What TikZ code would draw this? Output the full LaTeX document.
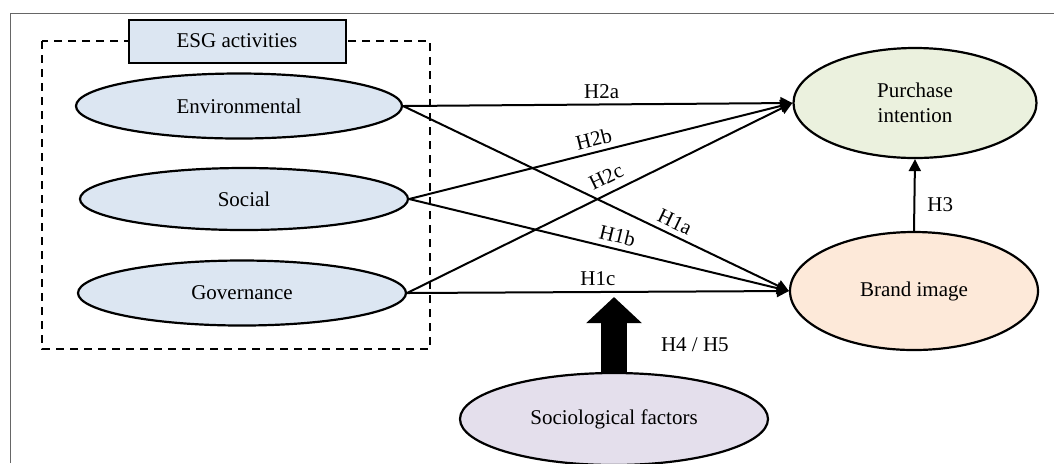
\documentclass[tikz,border=0pt]{standalone}
\usepackage{fontspec}
\setmainfont{Liberation Serif}
\usetikzlibrary{shapes.geometric,arrows.meta}
\definecolor{esgblue}{HTML}{DCE6F2}
\definecolor{pigreen}{HTML}{EBF1DE}
\definecolor{bipeach}{HTML}{FDE9D9}
\definecolor{sflilac}{HTML}{E4DFEC}
\begin{document}
\begin{tikzpicture}[x=0.5pt, y=-0.5pt,
	every node/.style={font=\fontsize{10.5}{12.6}\selectfont},
	factor/.style={ellipse, draw=black, line width=1.1pt, inner sep=0pt, align=center},
	link/.style={draw=black, line width=1pt, -{Triangle[length=6pt,width=6pt]}},
	hyp/.style={above, sloped, inner sep=2.5pt}]
			\useasboundingbox (0,0) rectangle (1054,463);
			\draw[black!60, line width=0.5pt] (10,463) -- (10,13) -- (1054,13);
			\draw[dash pattern=on 4pt off 3pt, line width=1pt] (42,41) rectangle (430,349);
			
			\node[draw=black, line width=1pt, fill=esgblue, minimum width=108.5pt, minimum height=21.5pt] (esg) at (237,41){ESG activities};
			\node[factor, fill=esgblue, minimum width=163pt, minimum height=32.5pt] (env) at (239,106){Environmental};
			\node[factor, fill=esgblue, minimum width=164pt, minimum height=31pt] (soc) at (244,199){Social};
			\node[factor, fill=esgblue, minimum width=164pt, minimum height=32.5pt] (gov) at (242,293){Governance};
			\node[factor, fill=pigreen, minimum width=121.5pt, minimum height=55pt] (pi) at (915,103){Purchase\\intention};
			\node[factor, fill=bipeach, minimum width=124pt, minimum height=59pt] (bi) at (914,291){Brand image};
			\node[factor, fill=sflilac, minimum width=154pt, minimum height=46pt] (sf) at (614,419){Sociological factors};
			\coordinate (mod) at (614,297);
			
			\path[link] (env.east) -- node[hyp, pos=0.51]{H2a} (pi.west);
			\path[link] (soc.east) -- node[hyp, pos=0.49]{H2b} (pi.west);
			\path[link] (gov.east) -- node[hyp, pos=0.535, inner sep=4pt]{H2c} (pi.west);
			\path[link] (env.east) -- node[hyp, pos=0.69]{H1a} (bi.west);
			\path[link] (soc.east) -- node[hyp, pos=0.54]{H1b} (bi.west);
			\path[link] (gov.east) -- node[hyp, pos=0.5]{H1c} (bi.west);
			\path[link] (bi.north) -- node[right, pos=0.36, inner sep=6pt]{H3} (pi.south);
			\path[draw=black, line width=13pt, -{Triangle[length=13pt,width=27pt]}] (sf.north) -- node[right, pos=0.37, inner sep=17pt]{H4 / H5} (mod);
			\end{tikzpicture}
\end{document}
